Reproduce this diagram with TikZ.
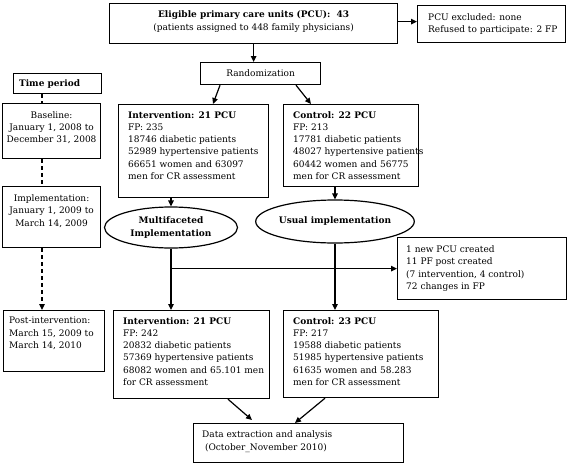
\documentclass[tikz,border=0pt]{standalone}
\usepackage{fontspec}
\setmainfont{DejaVu Serif}
\usetikzlibrary{arrows.meta,shapes.geometric}
\newcommand\myfs{\fontsize{9}{12.3}\selectfont}
\tikzset{
  frame/.style={draw, line width=1.2pt, inner sep=0pt, anchor=north west},
  txt/.style={inner sep=0pt, align=left, anchor=north west, font=\myfs},
  ctxt/.style={inner sep=0pt, align=center, font=\myfs},
  oval/.style={draw, ellipse, line width=1.2pt, inner sep=0pt},
  arr/.style={line width=1.2pt, -{Triangle[length=6pt,width=5.5pt]}},
  ln/.style={line width=1.2pt},
  dsh/.style={line width=1.2pt, dash pattern=on 4pt off 3pt},
}
\begin{document}
\begin{tikzpicture}[x=1pt,y=-1pt]
\useasboundingbox (0,0) rectangle (568,466);
% top
\node[frame, minimum width=288pt, minimum height=40pt] (elig) at (109,3) {};
\node[ctxt] (eligt) at ([yshift=2pt]elig.center) {\textbf{Eligible primary care units (PCU):\ \ 43}\\(patients assigned to 448 family physicians)};
\node[frame, minimum width=148pt, minimum height=37pt] (excl) at (417,5) {};
\node[txt, anchor=west] (exclt) at ([xshift=11pt]excl.west) {PCU excluded: none\\Refused to participate: 2 FP};
\draw[arr] ([yshift=2pt]elig.east) -- ([yshift=2pt]elig.east -| excl.west);
\node[frame, minimum width=120pt, minimum height=22pt, font=\myfs] (rand) at (200,62) {Randomization};
\draw[arr] (elig.south) -- (elig.south |- rand.north);
% left column
\coordinate (dx) at (42,0);
\node[frame, minimum width=88pt, minimum height=20pt] (tp) at (13,73) {};
\node[ctxt, font=\myfs\bfseries] (tpt) at ([xshift=-8pt]tp.center) {Time period};
\node[frame, minimum width=98pt, minimum height=55pt] (base) at (2,103) {};
\node[ctxt] (baset) at ([yshift=3.5pt]base.center) {Baseline:\\January 1, 2008 to\\December 31, 2008};
\node[frame, minimum width=98pt, minimum height=61pt] (impl) at (2,186) {};
\node[ctxt] (implt) at ([yshift=6pt]impl.center) {Implementation:\\January 1, 2009 to\\March 14, 2009};
\node[frame, minimum width=101pt, minimum height=61pt] (post) at (3,310) {};
\node[txt] (postt) at ([xshift=6pt,yshift=-7pt]post.north west) {Post-intervention:\\March 15, 2009 to\\March 14, 2010};
\draw[dsh] (tp.south -| dx) -- (base.north -| dx);
\draw[dsh] (base.south -| dx) -- (impl.north -| dx);
\draw[dsh, -{Triangle[length=6pt,width=5.5pt]}] (impl.south -| dx) -- (post.north -| dx);
% first row
\node[frame, minimum width=150pt, minimum height=93pt] (int1) at (118,104) {};
\node[txt] (int1t) at ([xshift=10pt,yshift=-7pt]int1.north west) {\textbf{Intervention: 21 PCU}\\FP: 235\\18746 diabetic patients\\52989 hypertensive patients\\66651 women and 63097\\men for CR assessment};
\node[frame, minimum width=135pt, minimum height=82pt] (ctl1) at (283,104) {};
\node[txt] (ctl1t) at ([xshift=10pt,yshift=-7pt]ctl1.north west) {\textbf{Control: 22 PCU}\\FP: 213\\17781 diabetic patients\\48027 hypertensive patients\\60442 women and 56775\\men for CR assessment};
\draw[arr] ([xshift=20pt]rand.south west) -- ([xshift=95pt]int1.north west);
\draw[arr] ([xshift=96pt]rand.south west) -- ([xshift=28pt]ctl1.north west);
% ellipses
\node[oval, minimum width=133pt, minimum height=41pt, font=\myfs\bfseries, align=center] (multi) at (171,227.5) {Multifaceted\\Implementation};
\node[oval, minimum width=135pt, minimum height=43pt, font=\myfs\bfseries] (usual) at (335,221.5) {Usual implementation};
\draw[arr] (int1.south -| multi.north) -- (multi.north);
\draw[arr] (ctl1.south -| usual.north) -- (usual.north);
% changes
\node[frame, minimum width=169pt, minimum height=62pt] (chg) at (397,237) {};
\node[txt, anchor=west] (chgt) at ([xshift=9pt]chg.west) {1 new PCU created\\11 PF post created\\(7 intervention, 4 control)\\72 changes in FP};
% second row
\node[frame, minimum width=156pt, minimum height=88pt] (int2) at (113,310) {};
\node[txt] (int2t) at ([xshift=10pt,yshift=-7pt]int2.north west) {\textbf{Intervention: 21 PCU}\\FP: 242\\20832 diabetic patients\\57369 hypertensive patients\\68082 women and 65.101 men\\for CR assessment};
\node[frame, minimum width=155pt, minimum height=87pt] (ctl2) at (283,310) {};
\node[txt] (ctl2t) at ([xshift=10pt,yshift=-7pt]ctl2.north west) {\textbf{Control: 23 PCU}\\FP: 217\\19588 diabetic patients\\51985 hypertensive patients\\61635 women and 58.283\\men for CR assessment};
\draw[ln] (multi.south) -- (multi.south |- chg.west);
\draw[arr] (multi.south |- chg.west) -- (chg.west);
\draw[arr] (multi.south |- chg.west) -- (multi.south |- int2.north);
\draw[arr] (usual.south) -- (usual.south |- ctl2.north);
% data
\node[frame, minimum width=210pt, minimum height=39pt] (data) at (193,423) {};
\node[txt, anchor=west] (datat) at ([xshift=9pt,yshift=1.5pt]data.west) {Data extraction and analysis\\\ (October\_November 2010)};
\draw[arr] ([xshift=115pt]int2.south west) -- ([xshift=59pt,yshift=3pt]data.north west);
\draw[arr] ([xshift=42pt]ctl2.south west) -- ([xshift=102pt]data.north west);
\end{tikzpicture}
\end{document}
